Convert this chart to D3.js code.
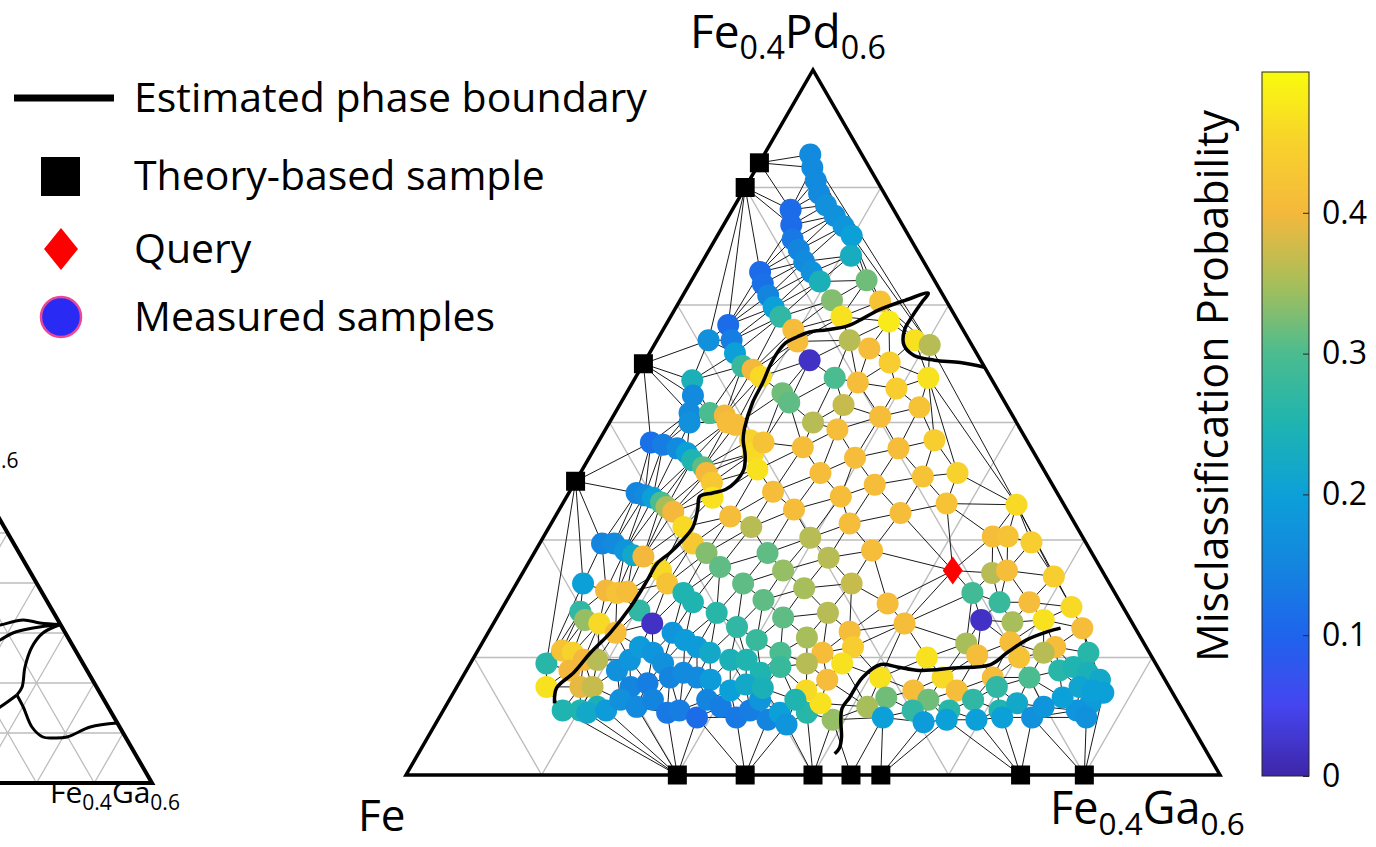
<!DOCTYPE html>
<html>
<head>
<meta charset="utf-8">
<script src="https://cdn.jsdelivr.net/npm/d3@7"></script>
<style>
  html, body { margin: 0; padding: 0; background: #fff; }
  svg { display: block; }
  text { font-family: "Open Sans", "Noto Sans", sans-serif; fill: #000; }
</style>
</head>
<body>
<svg id="chart" width="1376" height="847"></svg>
<script>
// compositions in at.% : [Ga, Pd, misclassification probability]
const measuredSamples = [
  [3.4,52.8,.16],[4.1,51.7,.16],[4.9,50.6,.16],[5.7,49.5,.16],[6.7,48.5,.17],[7.8,47.6,.17],
  [8.9,46.7,.18],[9.9,45.9,.2],[10.7,44.2,.23],[4.3,48.1,.11],[5.0,46.8,.11],[5.7,45.6,.13],
  [6.6,44.7,.15],[7.5,43.7,.16],[8.5,42.8,.17],[9.5,42.0,.24],[11.2,40.4,.33],[12.6,39.0,.47],
  [12.9,42.1,.32],[14.8,40.3,.42],[16.3,38.6,.48],[4.7,42.8,.11],[5.4,41.8,.12],[6.3,40.8,.15],
  [7.2,39.8,.2],[8.1,39.0,.27],[9.6,37.9,.41],[10.4,36.9,.41],[3.8,37.0,.17],[4.6,38.3,.11],
  [5.5,37.0,.14],[6.3,35.9,.2],[7.4,34.8,.28],[8.3,34.5,.4],[9.2,33.9,.46],[4.3,33.6,.24],
  [5.0,32.3,.16],[5.5,30.8,.16],[5.9,30.0,.17],[7.0,30.8,.3],[8.2,30.6,.4],[9.4,29.8,.41],
  [12.1,35.3,.02],[14.2,37.0,.36],[16.0,36.3,.41],[19.0,37.0,.47],[20.3,36.6,.36],[14.7,33.8,.3],
  [16.6,33.4,.41],[18.1,35.1,.44],[21.6,33.8,.47],[19.7,32.9,.44],[16.5,31.5,.37],[11.5,32.5,.32],
  [12.4,31.7,.31],[19.7,30.5,.41],[22.2,31.3,.42],[15.0,30.0,.36],[17.1,29.4,.41],[15.3,27.9,.41],
  [19.6,27.0,.41],[22.4,27.8,.41],[24.7,28.5,.44],[17.7,25.7,.41],[22.2,24.7,.41],[25.4,25.4,.42],
  [27.8,25.7,.45],[20.2,23.7,.41],[25.3,22.3,.41],[28.3,23.1,.42],[33.5,23.0,.46],[22.0,21.4,.41],
  [19.7,20.2,.36],[24.8,19.1,.41],[33.1,20.3,.41],[34.2,20.3,.42],[36.2,19.8,.44],[21.9,18.5,.36],
  [34.6,17.2,.36],[35.6,17.4,.41],[39.3,16.9,.44],[21.4,15.9,.35],[24.7,16.3,.37],[28.2,14.6,.41],
  [34.0,15.5,.29],[36.4,14.7,.28],[38.6,14.7,.41],[41.9,14.3,.46],[24.2,13.8,.36],[35.8,13.2,.02],
  [38.2,13.0,.35],[40.4,13.2,.47],[43.6,12.5,.41],[30.3,12.9,.41],[26.6,12.2,.41],[23.7,11.7,.35],
  [35.7,11.2,.35],[38.9,11.3,.41],[42.4,10.9,.41],[25.5,10.4,.41],[27.5,10.9,.44],[33.4,10.0,.47],
  [37.0,10.2,.41],[40.2,10.0,.42],[41.8,10.4,.36],[45.1,10.4,.26],[24.8,9.5,.36],[27.4,9.5,.47],
  [30.8,8.3,.47],[27.0,8.1,.41],[35.4,8.3,.46],[39.1,8.3,.41],[41.8,8.3,.3],[43.7,8.9,.26],
  [44.6,9.2,.25],[45.9,8.7,.24],[47.1,8.1,.22],[47.9,7.0,.2],[47.4,6.1,.19],[46.7,5.5,.18],
  [45.1,6.6,.2],[45.9,7.5,.21],[47.0,7.2,.2],[47.7,4.9,.17],[33.8,7.2,.41],[32.1,6.6,.32],
  [31.1,5.8,.35],[37.0,7.2,.41],[35.3,6.4,.32],[39.8,7.5,.27],[38.6,6.4,.27],[37.3,5.5,.26],
  [34.6,5.5,.27],[32.7,4.9,.2],[35.9,4.5,.19],[39.7,4.7,.2],[41.0,5.5,.25],[42.0,6.1,.22],
  [43.7,4.9,.17],[44.1,5.8,.18],[41.5,4.9,.2],[37.5,4.7,.2],[26.9,5.3,.26],[29.1,4.7,.34],
  [27.5,6.1,.47],[25.9,7.2,.46],[3.9,28.3,.12],[4.9,28.1,.14],[6.1,27.8,.16],[7.0,27.4,.2],
  [7.7,26.8,.25],[8.8,26.2,.31],[9.3,25.7,.4],[10.1,24.9,.43],[10.8,23.6,.47],[8.7,30.0,.41],
  [11.1,28.5,.45],[11.9,27.4,.46],[12.9,26.0,.47],[12.2,28.3,.42],[15.0,24.1,.41],[17.3,22.6,.41],
  [12.9,22.0,.41],[14.9,21.1,.36],[5.0,24.0,.15],[5.7,23.8,.16],[6.4,23.6,.2],[7.2,23.2,.3],
  [7.8,22.8,.35],[8.5,22.4,.4],[9.9,21.1,.46],[11.3,19.7,.43],[12.7,18.9,.33],[14.3,17.7,.31],
  [16.7,16.3,.31],[17.2,18.9,.31],[19.1,17.4,.34],[18.9,14.9,.31],[21.1,13.4,.31],[4.6,19.7,.15],
  [5.5,19.7,.16],[6.6,19.1,.18],[7.4,18.7,.22],[8.2,18.6,.4],[10.1,17.4,.46],[11.1,16.3,.42],
  [12.7,15.5,.25],[13.8,14.7,.25],[16.0,13.8,.26],[18.1,12.6,.27],[20.1,11.5,.28],[22.4,10.4,.3],
  [4.9,16.3,.2],[6.9,15.7,.4],[7.8,15.5,.42],[8.5,15.6,.41],[5.9,13.9,.27],[10.2,14.0,.27],
  [6.6,13.2,.34],[7.8,12.9,.46],[11.7,12.9,.02],[9.4,12.1,.41],[13.6,12.1,.18],[14.8,11.5,.19],
  [16.0,10.9,.19],[17.2,10.4,.22],[19.0,9.8,.24],[20.2,9.8,.25],[21.8,8.7,.25],[23.0,9.2,.28],
  [5.6,9.5,.26],[6.6,7.5,.47],[6.2,10.6,.42],[7.1,10.4,.45],[7.6,8.9,.4],[8.2,9.8,.4],
  [9.2,9.8,.36],[9.1,7.5,.39],[10.0,7.5,.37],[8.8,5.5,.25],[10.1,5.5,.25],[11.2,5.8,.24],
  [11.1,8.9,.17],[11.6,9.8,.18],[11.8,10.9,.19],[13.0,10.4,.18],[14.2,9.5,.17],[12.8,7.5,.15],
  [13.9,7.8,.14],[15.3,8.3,.15],[16.1,8.7,.16],[17.3,8.3,.16],[18.4,8.1,.19],[10.7,5.3,.22],
  [12.0,5.5,.19],[12.6,6.4,.17],[14.1,5.8,.16],[15.0,6.4,.15],[16.6,5.3,.13],[17.4,5.5,.14],
  [19.0,4.9,.11],[19.0,6.4,.15],[20.3,5.8,.14],[21.9,4.9,.13],[22.6,5.5,.14],[24.3,4.7,.15],
  [24.9,5.3,.2],[25.9,4.3,.18],[22.9,6.4,.18],[25.5,6.4,.25],[20.3,7.2,.2],[21.2,7.7,.22],
  [22.6,7.4,.24]
];

// theory-based samples: [Ga, Pd]
const theorySamples = [
  [0,25],[0,35],[0,50],[0,52.1],
  [20,0],[25,0],[30,0],[32.8,0],[35,0],[45.3,0],[50,0]
];

const querySample = [31.6, 17.4];

// estimated phase boundary, [Ga, Pd]
const boundaryUpper = [
  [7.9,6.1],[7.4,7.4],[8.0,8.7],[8.4,10.4],[9.0,12.1],[9.4,14.3],[9.5,16.6],[9.5,18.0],
  [10.0,18.9],[10.4,20.0],[10.6,21.1],[10.2,22.6],[9.8,23.7],[10.6,24.0],[11.4,24.3],[11.8,24.9],
  [11.9,26.0],[11.4,27.2],[10.6,28.5],[10.2,29.5],[9.7,31.7],[9.6,33.4],[9.4,34.9],[9.4,36.0],
  [9.6,36.8],[10.2,37.3],[10.9,37.7],[12.1,37.9],[13.4,38.2],[14.2,38.8],[15.1,39.6],[16.6,40.4],
  [18.0,41.0],[17.9,40.2],[17.8,39.1],[17.8,37.9],[18.4,36.6],[19.6,35.7],[21.3,35.3],[23.3,35.1],
  [25.3,34.7]
];
const boundaryLower = [
  [30.7,1.8],[30.8,2.3],[30.5,3.2],[29.7,4.7],[29.3,5.7],[29.4,6.6],[29.5,8.3],[30.3,9.4],
  [31.6,9.2],[33.4,8.9],[35.8,9.1],[38.4,9.4],[39.1,10.4],[40.0,11.5],[41.2,12.2],[42.0,12.5]
];

// boundaries of the reference diagram (inset, left)
const insetBoundaries = [
  [[15.6,31.0],[17.9,31.6],[21.4,32.6],[24.6,32.0],[28.3,31.7]],
  [[17.6,27.0],[19.4,28.6],[20.9,30.0],[23.9,31.0],[28.3,31.7]],
  [[28.3,31.7],[26.1,30.0],[25.6,27.2],[26.4,23.2],[27.9,19.2],[27.8,17.6]],
  [[24.4,13.4],[26.1,15.2],[27.8,17.6]],
  [[27.8,17.6],[30.1,15.2],[33.6,11.2],[36.5,9.2],[38.4,9.0],[40.7,9.2],[43.7,11.2],[48.0,12.0]]
];

const colorTicks = [0, 0.1, 0.2, 0.3, 0.4];
const parula = ["#3e26a8","#4545f0","#1e64ec","#1485df","#0ca0d8","#1fb4b0",
                "#4bbc8f","#a8be5a","#f4b83c","#f8d22c","#f9fb0e"];
const legendItems = ["Estimated phase boundary", "Theory-based sample", "Query", "Measured samples"];

const svg = d3.select("#chart");
svg.append("rect").attr("width", 1376).attr("height", 847).attr("fill", "#fff");

const color = d3.scaleLinear()
  .domain(parula.map((c, i) => i * 0.5 / (parula.length - 1)))
  .range(parula)
  .clamp(true);

// main ternary (0-60 at.% on each side)
const tx = d3.scaleLinear().domain([0, 60]).range([406, 1220]);
const ty = d3.scaleLinear().domain([0, 60]).range([775, 70]);
const proj = (ga, pd) => [tx(ga + pd / 2), ty(pd)];

// inset ternary, mostly off the left of the page
const ix = d3.scaleLinear().domain([0, 60]).range([-194.4, 152]);
const iy = d3.scaleLinear().domain([0, 60]).range([783, 483]);
const iproj = (ga, pd) => [ix(ga + pd / 2), iy(pd)];

const line = d3.line();

function drawGrid(g, p, w) {
  for (let k = 10; k < 60; k += 10) {
    [[p(0, k), p(60 - k, k)], [p(k, 0), p(k, 60 - k)], [p(k, 0), p(0, k)]]
      .forEach(s => g.append("path").attr("d", line(s))
        .attr("stroke", "#bdbdbd").attr("stroke-width", w).attr("fill", "none"));
  }
}

function drawFrame(g, p, w) {
  g.append("path").attr("d", line([p(0, 0), p(60, 0), p(0, 60)]) + "Z")
    .attr("fill", "none").attr("stroke", "#000").attr("stroke-width", w);
}

function formula(x, y, parts, size, anchor) {
  const t = svg.append("text").attr("x", x).attr("y", y)
    .attr("font-size", size).attr("text-anchor", anchor || "start");
  let down = false;
  parts.forEach(([s, sub]) => {
    const ts = t.append("tspan").text(s);
    if (sub && !down) { ts.attr("font-size", size * 0.7).attr("dy", size * 0.24); down = true; }
    else if (!sub && down) { ts.attr("dy", -size * 0.24); down = false; }
  });
  return t;
}

// ---- inset (cropped at the left edge, as in the figure)
const inset = svg.append("g");
drawGrid(inset.append("g"), iproj, 1.3);
insetBoundaries.forEach(b => inset.append("path")
  .attr("d", d3.line().curve(d3.curveCatmullRom)(b.map(d => iproj(d[0], d[1]))))
  .attr("fill", "none").attr("stroke", "#000").attr("stroke-width", 3));
drawFrame(inset, iproj, 4);

formula(50, 803, [["Fe", 0], ["0.4", 1], ["Ga", 0], ["0.6", 1]], 30);
// only the tail of the inset's top label is inside the page
svg.append("text").attr("x", 1).attr("y", 468).attr("font-size", 21).text(".6");

// ---- main diagram
const main = svg.append("g");
drawGrid(main.append("g"), proj, 1.4);

const allPts = measuredSamples.map(d => proj(d[0], d[1]))
  .concat(theorySamples.map(d => proj(d[0], d[1])))
  .concat([proj(querySample[0], querySample[1])]);
const delaunay = d3.Delaunay.from(allPts);
main.append("path").attr("d", delaunay.render())
  .attr("fill", "none").attr("stroke", "#000").attr("stroke-width", 0.9);

drawFrame(main, proj, 3.5);

main.append("g").selectAll("circle")
  .data(measuredSamples)
  .join("circle")
  .attr("cx", d => proj(d[0], d[1])[0])
  .attr("cy", d => proj(d[0], d[1])[1])
  .attr("r", 11)
  .attr("fill", d => color(d[2]));

[boundaryUpper, boundaryLower].forEach(b => main.append("path")
  .attr("d", d3.line().curve(d3.curveCatmullRom)(b.map(d => proj(d[0], d[1]))))
  .attr("fill", "none").attr("stroke", "#000").attr("stroke-width", 3.5)
  .attr("stroke-linejoin", "round"));

main.append("g").selectAll("rect")
  .data(theorySamples)
  .join("rect")
  .attr("x", d => proj(d[0], d[1])[0] - 9.5)
  .attr("y", d => proj(d[0], d[1])[1] - 9.5)
  .attr("width", 19).attr("height", 19)
  .attr("fill", "#000");

const q = proj(querySample[0], querySample[1]);
main.append("path")
  .attr("d", `M${q[0]},${q[1] - 14}L${q[0] + 10},${q[1]}L${q[0]},${q[1] + 14}L${q[0] - 10},${q[1]}Z`)
  .attr("fill", "#ff0000");

formula(690, 48, [["Fe", 0], ["0.4", 1], ["Pd", 0], ["0.6", 1]], 46);
svg.append("text").attr("x", 358).attr("y", 831).attr("font-size", 44).text("Fe");
formula(1050, 824, [["Fe", 0], ["0.4", 1], ["Ga", 0], ["0.6", 1]], 45);

// ---- colorbar
const cb = { x: 1262, w: 47, top: 72, bottom: 776 };
const cy = d3.scaleLinear().domain([0, 0.5]).range([cb.bottom, cb.top]);
const grad = svg.append("defs").append("linearGradient")
  .attr("id", "parula").attr("x1", 0).attr("y1", 1).attr("x2", 0).attr("y2", 0);
d3.range(0, 1.0001, 0.025).forEach(f => grad.append("stop")
  .attr("offset", f).attr("stop-color", color(f * 0.5)));
svg.append("rect").attr("x", cb.x).attr("y", cb.top).attr("width", cb.w)
  .attr("height", cb.bottom - cb.top).attr("fill", "url(#parula)")
  .attr("stroke", "#262626").attr("stroke-width", 1);

const cAxis = svg.append("g").attr("transform", `translate(${cb.x + cb.w},0)`)
  .call(d3.axisRight(cy).tickValues(colorTicks).tickSize(-6).tickPadding(13)
    .tickFormat(d => d === 0 ? "0" : d3.format(".1f")(d)));
cAxis.select(".domain").remove();
cAxis.selectAll("line").attr("stroke", "#262626");
cAxis.selectAll("text").attr("font-family", "'Liberation Sans', Arial, sans-serif")
  .attr("font-size", 32).attr("fill", "#333");

svg.append("text")
  .attr("transform", "translate(1228,386) rotate(-90)")
  .attr("text-anchor", "middle").attr("font-size", 43)
  .text("Misclassification Probability");

// ---- legend
const lg = svg.append("g");
const rowY = [98, 176, 249, 317];
lg.append("line").attr("x1", 14).attr("x2", 114).attr("y1", rowY[0]).attr("y2", rowY[0])
  .attr("stroke", "#000").attr("stroke-width", 7);
lg.append("rect").attr("x", 41).attr("y", rowY[1] - 19).attr("width", 39).attr("height", 39)
  .attr("fill", "#000");
lg.append("path")
  .attr("d", `M61,${rowY[2] - 21}L78,${rowY[2]}L61,${rowY[2] + 21}L44,${rowY[2]}Z`)
  .attr("fill", "#ff0000");
lg.append("circle").attr("cx", 61).attr("cy", rowY[3]).attr("r", 20)
  .attr("fill", "#2a2af5").attr("stroke", "#e8479a").attr("stroke-width", 2.5);
legendItems.forEach((s, i) => lg.append("text")
  .attr("x", 134).attr("y", rowY[i]).attr("dy", "0.35em")
  .attr("font-size", 41).text(s));
</script>
</body>
</html>
